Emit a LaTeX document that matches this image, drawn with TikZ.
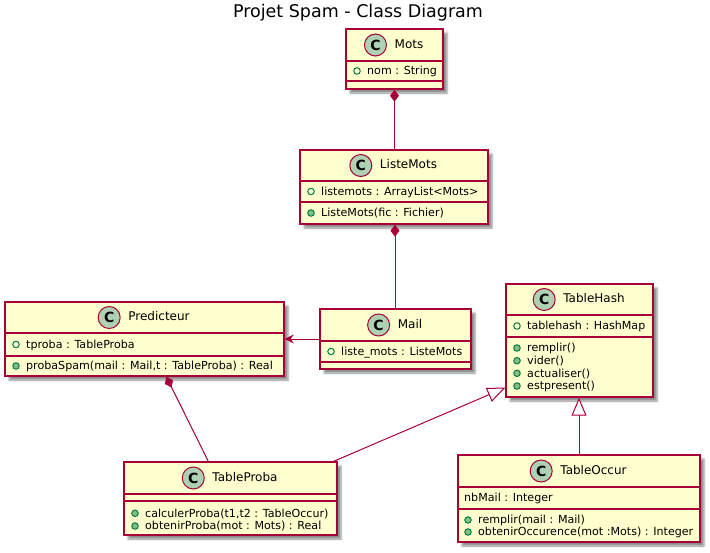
\documentclass[tikz,border=0pt]{standalone}
\usepackage{fontspec}
\setmainfont{DejaVu Sans}
\usetikzlibrary{arrows.meta,fit,shadows.blur}
\definecolor{umlborder}{HTML}{A80036}
\definecolor{umlfill}{HTML}{FEFECE}
\definecolor{umlbadge}{HTML}{ADD1B2}
\definecolor{umlicon}{HTML}{038048}
\definecolor{umlmeth}{HTML}{84BE84}
\newcommand\memfont{\fontsize{11.1}{13}\selectfont}
\newcommand\namefont{\fontsize{12}{14}\selectfont}
\tikzset{
  clsbox/.style={draw=umlborder, fill=umlfill, line width=1.4pt, inner sep=0pt,
    blur shadow={shadow xshift=4pt, shadow yshift=-4pt, shadow blur radius=2pt, shadow opacity=45}},
  sepline/.style={draw=umlborder, line width=1.4pt},
  clsname/.style={inner sep=0pt, font=\namefont, text height=8.7pt, text depth=2.5pt},
  cbadge/.style={circle, draw=umlborder, fill=umlbadge, line width=1pt, minimum size=22pt, inner sep=0pt,
    font=\fontsize{14}{14}\selectfont\bfseries},
  memtext/.style={inner sep=0pt, anchor=base west, font=\memfont},
  fieldicon/.style={circle, draw=umlicon, line width=1pt, minimum size=6.5pt, inner sep=0pt},
  methicon/.style={circle, draw=umlicon, fill=umlmeth, line width=1pt, minimum size=6.5pt, inner sep=0pt},
  conn/.style={draw=umlborder, line width=1pt},
  compo/.style={conn, {Diamond[length=12pt,width=9pt,fill=umlborder]}-},
  inherit/.style={conn, -{Triangle[open,length=18pt,width=15pt,fill=white]}},
  assoc/.style={conn, -{Stealth[length=9pt,width=9pt,inset=3pt]}},
}
% #1 name, #2 left, #3 top, #4 right, #5 bottom, #6 sep1, #7 sep2, #8 title
\newcommand\umlclass[8]{%
  \node[clsbox, fit={(#2,#3) (#4,#5)}] (#1) {};
  \draw[sepline] (#2,#6) -- (#4,#6);
  \draw[sepline] (#2,#7) -- (#4,#7);
  \node[clsname] (#1-name) at ({(#2+#4)/2+14.5},{(#3+#6)/2}) {#8};
  \node[cbadge] (#1-badge) at ([xshift=-19pt]#1-name.west) {C};
}
% #1 name, #2 box left, #3 centre y, #4 text
\newcommand\umlfield[4]{%
  \node[fieldicon] (#1-i) at ({#2+11},#3) {};
  \node[memtext] (#1) at ({#2+21},{#3+3.8}) {#4};
}
\newcommand\umlmethod[4]{%
  \node[methicon] (#1-i) at ({#2+11},#3) {};
  \node[memtext] (#1) at ({#2+21},{#3+3.8}) {#4};
}
\begin{document}
\begin{tikzpicture}[x=1pt,y=-1pt]
\useasboundingbox (0,0) rectangle (710,552);
\node[inner sep=0pt, anchor=base, font=\fontsize{17.5}{20}\selectfont] (title) at (358,17) {Projet Spam - Class Diagram};

\umlclass{mots}{346}{29}{443}{89}{61}{81}{Mots}
\umlfield{mots-a1}{346}{71}{nom : String}

\umlclass{listemots}{300}{150}{488}{224}{181}{202}{ListeMots}
\umlfield{listemots-a1}{300}{191.5}{listemots : ArrayList<Mots>}
\umlmethod{listemots-m1}{300}{213}{ListeMots(fic : Fichier)}

\umlclass{predicteur}{5}{302}{284}{376}{333}{356}{Predicteur}
\umlfield{predicteur-a1}{5}{344.5}{tproba : TableProba}
\umlmethod{predicteur-m1}{5}{366}{probaSpam(mail : Mail,t : TableProba) : Real}

\umlclass{mail}{320}{309}{471}{369}{341}{362}{Mail}
\umlfield{mail-a1}{320}{351.5}{liste\_mots : ListeMots}

\umlclass{tablehash}{506}{284}{653}{397}{315}{337}{TableHash}
\umlfield{tablehash-a1}{506}{326}{tablehash : HashMap}
\umlmethod{tablehash-m1}{506}{348}{remplir()}
\umlmethod{tablehash-m2}{506}{360.7}{vider()}
\umlmethod{tablehash-m3}{506}{373.3}{actualiser()}
\umlmethod{tablehash-m4}{506}{386}{estpresent()}

\umlclass{tableproba}{124}{462}{337}{535}{494}{501}{TableProba}
\umlmethod{tableproba-m1}{124}{513.3}{calculerProba(t1,t2 : TableOccur)}
\umlmethod{tableproba-m2}{124}{526}{obtenirProba(mot : Mots) : Real}

\umlclass{tableoccur}{458}{455}{700}{542}{487}{509}{TableOccur}
\node[memtext] (tableoccur-a1) at (464,{498+3.8}) {nbMail : Integer};
\umlmethod{tableoccur-m1}{457}{520}{remplir(mail : Mail)}
\umlmethod{tableoccur-m2}{457}{532}{obtenirOccurence(mot :Mots) : Integer}

% connectors
\draw[compo] (mots.south) -- (mots.south |- listemots.north);
\draw[compo] ([xshift=1pt]listemots.south) -- ([xshift=1pt]listemots.south |- mail.north);
\draw[assoc] (mail.west) -- (predicteur.east);
\draw[compo] ([xshift=162pt]predicteur.south west) -- ([xshift=85pt]tableproba.north west);
\draw[inherit] ([xshift=-4pt]tableproba.north east) -- ([yshift=10pt]tablehash.south west);
\draw[inherit] (tableoccur.north) -- (tableoccur.north |- tablehash.south);
\end{tikzpicture}
\end{document}
